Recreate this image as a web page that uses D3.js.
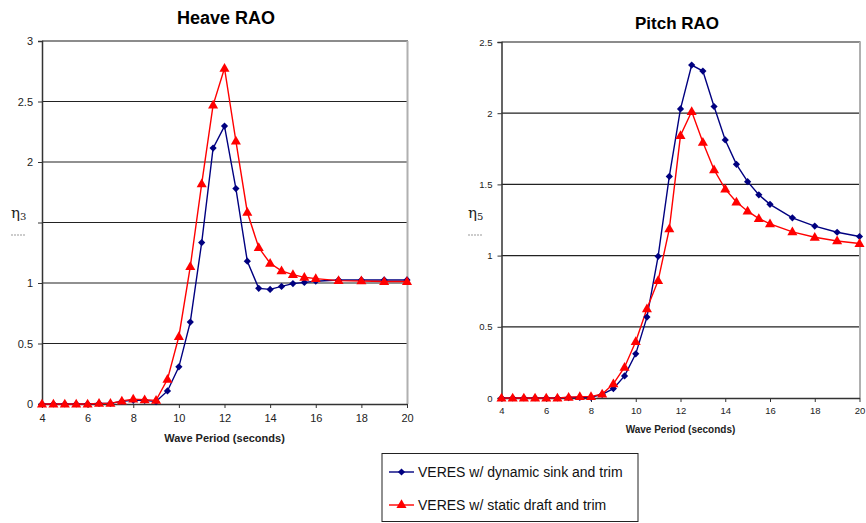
<!DOCTYPE html>
<html>
<head>
<meta charset="utf-8">
<script src="https://cdn.jsdelivr.net/npm/d3@7"></script>
<style>
  html, body { margin: 0; padding: 0; background: #fff; }
  svg { display: block; }
  text { font-family: Arial, "Liberation Sans", Helvetica, sans-serif; }
</style>
</head>
<body>
<svg id="chart" width="866" height="523"></svg>
<script>
// Wave periods (seconds)
const periods = [4, 4.5, 5, 5.5, 6, 6.5, 7, 7.5, 8, 8.5, 9, 9.5, 10, 10.5, 11, 11.5, 12, 12.5, 13, 13.5, 14, 14.5, 15, 15.5, 16, 17, 18, 19, 20];

// Heave RAO
const heaveDynamic = [0, 0, 0, 0, 0, 0.005, 0.005, 0.022, 0.03, 0.03, 0.02, 0.108, 0.307, 0.677, 1.334, 2.115, 2.297, 1.78, 1.18, 0.956, 0.947, 0.972, 0.995, 1.005, 1.015, 1.025, 1.025, 1.025, 1.025];
const heaveStatic  = [0, 0, 0, 0, 0, 0.005, 0.005, 0.025, 0.04, 0.035, 0.03, 0.204, 0.558, 1.135, 1.82, 2.47, 2.775, 2.173, 1.585, 1.293, 1.163, 1.1, 1.069, 1.047, 1.036, 1.02, 1.017, 1.012, 1.012];

// Pitch RAO
const pitchDynamic = [0, 0, 0, 0, 0, 0, 0.003, 0.004, 0.005, 0.025, 0.066, 0.155, 0.31, 0.568, 0.995, 1.556, 2.03, 2.338, 2.296, 2.047, 1.812, 1.641, 1.519, 1.427, 1.36, 1.265, 1.207, 1.164, 1.134];
const pitchStatic  = [0, 0, 0, 0, 0, 0, 0.005, 0.01, 0.01, 0.028, 0.099, 0.216, 0.397, 0.627, 0.824, 1.188, 1.843, 2.012, 1.796, 1.603, 1.467, 1.376, 1.312, 1.26, 1.223, 1.167, 1.129, 1.103, 1.085];

const xTicks = [4, 6, 8, 10, 12, 14, 16, 18, 20];
const heaveYTicks = [0, 0.5, 1, 1.5, 2, 2.5, 3];
const heaveYLabels = ["0", "0.5", "1", "", "2", "2.5", "3"];
const pitchYTicks = [0, 0.5, 1, 1.5, 2, 2.5];
const pitchYLabels = ["0", "0.5", "1", "1.5", "2", "2.5"];

const seriesNames = ["VERES w/ dynamic sink and trim", "VERES w/ static draft and trim"];
const seriesColors = ["#000080", "#ff0000"];

const svg = d3.select("#chart");

// square-on-its-corner marker, like a spreadsheet diamond
const diamondPath = d3.symbol().type(d3.symbolSquare).size(26);
const trianglePath = d3.symbol().type(d3.symbolTriangle).size(44);

function drawPanel(cfg) {
  const x = d3.scaleLinear().domain([4, 20]).range([cfg.left, cfg.right]);
  const y = d3.scaleLinear().domain([0, cfg.yMax]).range([cfg.bottom, cfg.top]);
  const g = svg.append("g");

  // horizontal gridlines
  g.selectAll("line.grid").data(cfg.yTicks.filter(v => v > 0 && v < cfg.yMax))
    .enter().append("line")
    .attr("x1", cfg.left).attr("x2", cfg.right)
    .attr("y1", d => y(d)).attr("y2", d => y(d))
    .attr("stroke", "#222").attr("stroke-width", 1.2);

  // plot-area frame (top and right)
  g.append("line").attr("x1", cfg.left).attr("x2", cfg.right + 1)
    .attr("y1", y(cfg.yMax)).attr("y2", y(cfg.yMax))
    .attr("stroke", "#666").attr("stroke-width", 1.5);
  g.append("line").attr("x1", cfg.right + 0.5).attr("x2", cfg.right + 0.5)
    .attr("y1", y(cfg.yMax)).attr("y2", cfg.bottom)
    .attr("stroke", "#b0b0b0").attr("stroke-width", 2);

  // y axis
  const yAxis = d3.axisLeft(y).tickValues(cfg.yTicks).tickSize(4).tickPadding(5)
    .tickFormat((d, i) => cfg.yLabels[i]);
  const ya = g.append("g").attr("transform", `translate(${cfg.left},0)`).call(yAxis);
  ya.select(".domain").attr("stroke", "#333").attr("stroke-width", 1.5);
  ya.selectAll(".tick line").attr("stroke", "#333");
  ya.selectAll("text").attr("font-size", cfg.tickFont + "px").attr("fill", "#222")
    .style("font-family", "Arial, 'Liberation Sans', sans-serif");

  // x axis
  const xAxis = d3.axisBottom(x).tickValues(xTicks).tickSize(4).tickSizeOuter(0).tickPadding(cfg.xPad);
  const xa = g.append("g").attr("transform", `translate(0,${cfg.bottom})`).call(xAxis);
  xa.select(".domain").attr("stroke", "#333").attr("stroke-width", 1.5);
  xa.selectAll(".tick line").attr("stroke", "#333");
  xa.selectAll("text").attr("font-size", cfg.tickFont + "px").attr("fill", "#222")
    .style("font-family", "Arial, 'Liberation Sans', sans-serif");

  // series lines
  const line = d3.line().x((d, i) => x(periods[i])).y(d => y(d));
  [cfg.dynamic, cfg.statics].forEach((vals, s) => {
    g.append("path").datum(vals)
      .attr("fill", "none").attr("stroke", seriesColors[s]).attr("stroke-width", 1.4)
      .attr("d", line);
  });

  // markers
  g.selectAll("path.dm").data(cfg.dynamic).enter().append("path")
    .attr("transform", (d, i) => `translate(${x(periods[i])},${y(d)}) rotate(45)`)
    .attr("d", diamondPath).attr("fill", seriesColors[0]);
  g.selectAll("path.tr").data(cfg.statics).enter().append("path")
    .attr("transform", (d, i) => `translate(${x(periods[i])},${y(d) + 0.5})`)
    .attr("d", trianglePath).attr("fill", seriesColors[1]);

  // title
  g.append("text").attr("x", cfg.titleX).attr("y", cfg.titleY)
    .attr("text-anchor", "middle").attr("font-weight", "bold")
    .attr("font-size", cfg.titleFont + "px").text(cfg.title);

  // x axis title
  g.append("text").attr("x", (cfg.left + cfg.right) / 2).attr("y", cfg.xTitleY)
    .attr("text-anchor", "middle").attr("font-weight", "bold")
    .attr("font-size", cfg.xTitleFont + "px").attr("fill", "#222").text("Wave Period (seconds)");

  // y axis label (eta with subscript) over a dashed fraction bar
  const lab = g.append("text").attr("x", cfg.etaX).attr("y", 218)
    .attr("font-size", "15px").attr("fill", "#222")
    .style("font-family", "'DejaVu Serif', 'Liberation Serif', serif");
  lab.append("tspan").text("η");
  lab.append("tspan").attr("font-size", "10px").attr("dy", 2).text(cfg.sub);
  g.append("line").attr("x1", cfg.etaX).attr("x2", cfg.etaX + 15)
    .attr("y1", 235).attr("y2", 235)
    .attr("stroke", "#999").attr("stroke-width", 1).attr("stroke-dasharray", "2,1");
}

drawPanel({
  left: 42, right: 407, top: 41, bottom: 404, yMax: 3,
  yTicks: heaveYTicks, yLabels: heaveYLabels,
  dynamic: heaveDynamic, statics: heaveStatic,
  tickFont: 11, xPad: 6, title: "Heave RAO", titleX: 226, titleY: 24, titleFont: 18,
  xTitleY: 442, xTitleFont: 11, etaX: 11, sub: "3"
});

drawPanel({
  left: 501.5, right: 859.5, top: 42, bottom: 398, yMax: 2.5,
  yTicks: pitchYTicks, yLabels: pitchYLabels,
  dynamic: pitchDynamic, statics: pitchStatic,
  tickFont: 9.5, xPad: 5, title: "Pitch RAO", titleX: 677, titleY: 29, titleFont: 17,
  xTitleY: 433, xTitleFont: 10, etaX: 468, sub: "5"
});

// legend
const lg = svg.append("g");
lg.append("rect").attr("x", 382).attr("y", 453.5).attr("width", 256).attr("height", 68)
  .attr("fill", "#fff").attr("stroke", "#222").attr("stroke-width", 1);
seriesNames.forEach((name, i) => {
  const yy = 472 + i * 33;
  lg.append("line").attr("x1", 389).attr("x2", 414).attr("y1", yy).attr("y2", yy)
    .attr("stroke", seriesColors[i]).attr("stroke-width", 1.4);
  lg.append("path")
    .attr("transform", i === 0 ? `translate(401.5,${yy}) rotate(45)` : `translate(401.5,${yy})`)
    .attr("d", i === 0 ? diamondPath : trianglePath).attr("fill", seriesColors[i]);
  lg.append("text").attr("x", 418).attr("y", yy + 5).attr("font-size", "14px").attr("fill", "#111").text(name);
});
</script>
</body>
</html>
